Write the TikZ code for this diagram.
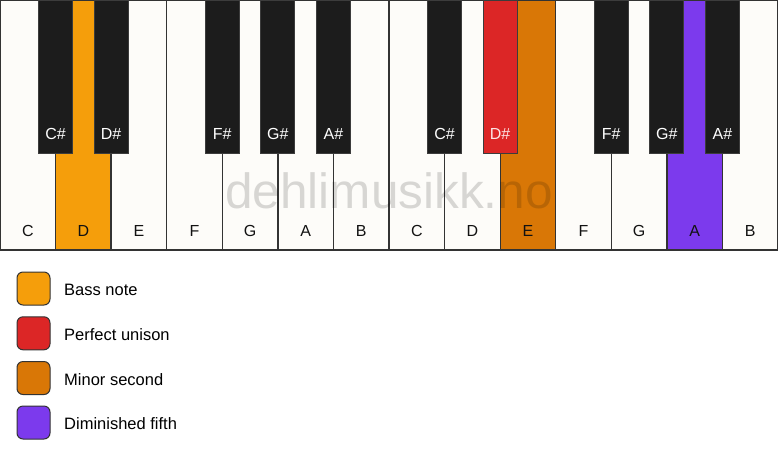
\documentclass[tikz,border=0pt]{standalone}
\usepackage{fontspec}
\setmainfont{Liberation Sans}
\definecolor{whitekey}{HTML}{FDFCF9}
\definecolor{blackkey}{HTML}{1C1C1C}
\definecolor{keyline}{HTML}{333333}
\definecolor{blackline}{HTML}{3C3C3C}
\definecolor{bassc}{HTML}{F59E0B}
\definecolor{unisonc}{HTML}{DC2626}
\definecolor{minsecc}{HTML}{D97706}
\definecolor{dimfifc}{HTML}{7C3AED}
\definecolor{pinktext}{HTML}{FCE4E4}
\begin{document}
\begin{tikzpicture}[x=1pt,y=-1pt,
  whitekeybox/.style={draw=keyline, line width=1.3pt, minimum width=55.5714pt, minimum height=250pt, inner sep=0pt, outer sep=0pt, anchor=north west},
  blackkeybox/.style={draw=blackline, line width=0.8pt, minimum width=34pt, minimum height=153pt, inner sep=0pt, outer sep=0pt, anchor=north},
  keylabel/.style={font=\fontsize{16}{19}\selectfont, anchor=base, inner sep=0pt},
  legbox/.style={draw=keyline, line width=1pt, rounded corners=6pt, minimum width=33pt, minimum height=33pt, inner sep=0pt},
  legtext/.style={font=\fontsize{16.5}{19}\selectfont, anchor=base west, inner sep=0pt, text=black}
]
\useasboundingbox[fill=white] (0,0) rectangle (778,461);
% white keys
\foreach \i/\n/\c in {0/C/whitekey,1/D/bassc,2/E/whitekey,3/F/whitekey,4/G/whitekey,5/A/whitekey,6/B/whitekey,7/C/whitekey,8/D/whitekey,9/E/minsecc,10/F/whitekey,11/G/whitekey,12/A/dimfifc,13/B/whitekey}{
  \node[whitekeybox, fill=\c] (w\i) at (\i*55.5714,0) {};
  \node[keylabel, text=black!93] (wl\i) at (\i*55.5714+27.7857,236) {\n};
}
% black keys
\foreach \b/\n/\c/\t in {1/C\#/blackkey/white,2/D\#/blackkey/white,4/F\#/blackkey/white,5/G\#/blackkey/white,6/A\#/blackkey/white,8/C\#/blackkey/white,9/D\#/unisonc/pinktext,11/F\#/blackkey/white,12/G\#/blackkey/white,13/A\#/blackkey/white}{
  \node[blackkeybox, fill=\c] (b\b) at (\b*55.5714,0) {};
  \node[keylabel, text=\t] (bl\b) at (\b*55.5714,139) {\n};
}
% watermark
\node[anchor=base, inner sep=0pt, text=black, text opacity=0.15, font=\fontsize{49.5}{58}\selectfont] (wm) at (389,208.3) {dehlimusikk.no};
% legend
\node[legbox, fill=bassc] (lg1) at (33.5,288.5) {};
\node[legtext] (lt1) at (64,295.5) {Bass note};
\node[legbox, fill=unisonc] (lg2) at (33.5,333.3) {};
\node[legtext] (lt2) at (64,340.3) {Perfect unison};
\node[legbox, fill=minsecc] (lg3) at (33.5,378) {};
\node[legtext] (lt3) at (64,385) {Minor second};
\node[legbox, fill=dimfifc] (lg4) at (33.5,422.5) {};
\node[legtext] (lt4) at (64,429.5) {Diminished fifth};
\end{tikzpicture}
\end{document}
